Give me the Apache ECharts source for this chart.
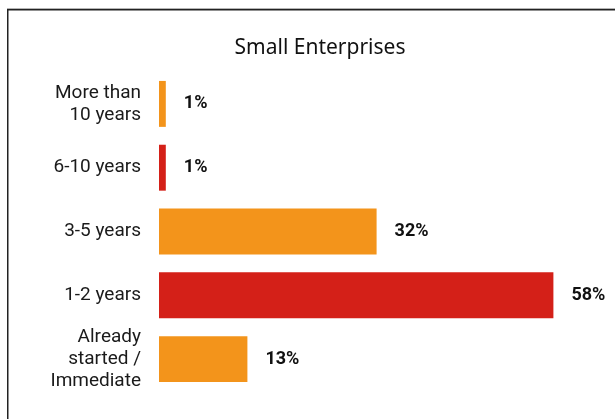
<!DOCTYPE html>
<html>
<head>
<meta charset="utf-8">
<script src="https://cdn.jsdelivr.net/npm/echarts@6/dist/echarts.min.js"></script>
<style>
  html, body { margin: 0; padding: 0; background: #fff; }
  #chart { width: 615px; height: 419px; }
</style>
</head>
<body>
<div id="chart"></div>
<script>
// Planned start horizon for small enterprises
const chartTitle = 'Small Enterprises';
const categories = [
  'More than\n10 years',
  '6-10 years',
  '3-5 years',
  '1-2 years',
  'Already\nstarted /\nImmediate'
];
const shares = [1, 1, 32, 58, 13];
const barColors = ['#F3941B', '#D42018', '#F3941B', '#D42018', '#F3941B'];

const chart = echarts.init(document.getElementById('chart'), null, { renderer: 'canvas' });

chart.setOption({
  backgroundColor: '#ffffff',
  animation: false,
  title: {
    text: chartTitle,
    left: 315,
    top: 33,
    textAlign: 'center',
    textStyle: {
      fontFamily: 'Noto Sans',
      fontSize: 21,
      fontWeight: 'normal',
      color: '#111111'
    }
  },
  grid: {
    left: 159,
    right: 48,
    top: 72,
    bottom: 28,
    containLabel: false
  },
  xAxis: {
    type: 'value',
    min: 0,
    max: 60,
    show: false
  },
  yAxis: {
    type: 'category',
    data: categories,
    inverse: true,
    axisLine: { show: false },
    axisTick: { show: false },
    splitLine: { show: false },
    axisLabel: {
      margin: 18,
      fontFamily: 'Roboto',
      fontSize: 19,
      lineHeight: 22,
      color: '#1a1a1a',
      align: 'right'
    }
  },
  series: [{
    type: 'bar',
    data: shares.map((v, i) => ({ value: v, itemStyle: { color: barColors[i] } })),
    barCategoryGap: '28%',
    label: {
      show: true,
      position: 'right',
      distance: 18,
      formatter: '{c}%',
      fontFamily: 'Roboto',
      fontSize: 18,
      fontWeight: 'bold',
      color: '#111111'
    }
  }],
  graphic: [
    // frame: faint top rule, dark top and left edges
    { type: 'rect', shape: { x: 7, y: 8, width: 608, height: 1 }, style: { fill: '#b5b5b5' }, silent: true },
    { type: 'rect', shape: { x: 7, y: 9, width: 608, height: 1.5 }, style: { fill: '#222222' }, silent: true },
    { type: 'rect', shape: { x: 7, y: 9, width: 1.5, height: 410 }, style: { fill: '#222222' }, silent: true }
  ]
});
</script>
</body>
</html>
